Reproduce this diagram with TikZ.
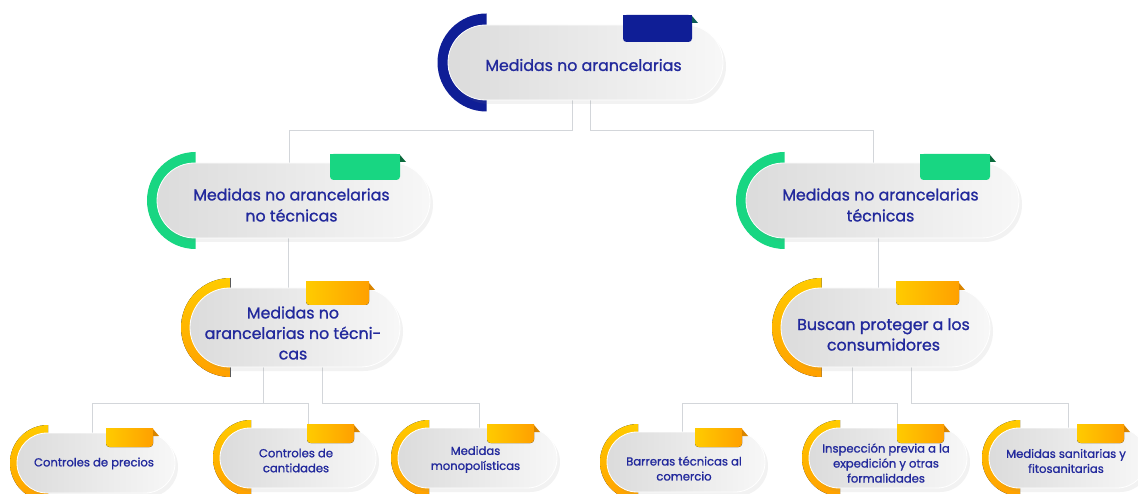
\documentclass[tikz,border=0pt]{standalone}
\usepackage{fontspec}
\setmainfont{Poppins}[FakeBold=1.1]
\usetikzlibrary{shapes.misc,shadows,backgrounds,calc}
\definecolor{txt}{HTML}{22299C}
\definecolor{bluec}{HTML}{0F1E96}
\definecolor{bluefold}{HTML}{0C5B57}
\definecolor{greenc}{HTML}{18D682}
\definecolor{greenfold}{HTML}{0B6B3D}
\definecolor{yel}{HTML}{FFCB00}
\definecolor{ora}{HTML}{FFA000}
\definecolor{orafold}{HTML}{D98500}
\definecolor{lnc}{HTML}{D3D6DA}
\tikzset{
  pill/.style={rounded rectangle, inner sep=0pt, draw=white, line width=0.8pt,
    left color=black!14, right color=black!3,
    drop shadow={opacity=0.10, shadow xshift=3pt, shadow yshift=-4pt}},
  lbl/.style={align=center, text=txt, inner sep=0pt},
  conn/.style={draw=lnc, line width=1pt},
  bluearc/.style={fill=bluec},
  bluetab/.style={fill=bluec},
  bluefoldst/.style={fill=bluefold},
  greenarc/.style={fill=greenc},
  greentab/.style={fill=greenc},
  greenfoldst/.style={fill=greenfold},
  yelarc/.style={top color=yel, bottom color=ora},
  yeltab/.style={left color=yel, right color=ora},
  yelfoldst/.style={fill=orafold},
}
% #1 name, #2 cx, #3 cy, #4 w, #5 scheme, #6 tab x1, #7 text, #8 text dy
\newcommand\mkpill[8]{%
  \pgfmathsetmacro\lx{#2-#4/2+\ph/2+1}%
  \pgfmathsetmacro\tx{#6+\tw}%
  \pgfmathsetmacro\ty{#3-\ph/2-\ttop}%
  \pgfmathsetmacro\tyb{\ty+\th}%
  \fill[#5arc] (\lx,#3) ++(0,-\pR) arc[start angle=-90,end angle=-270,radius=\pR] -- cycle;
  \node[pill, minimum width=#4pt, minimum height=\ph pt] (#1) at (#2,#3) {};
  \fill[#5tab, rounded corners=3.5pt] (#6,\ty) rectangle (\tx,\tyb);
  \fill[#5tab] (#6,\ty) rectangle (\tx,\ty+5);
  \fill[#5foldst] (\tx,\ty+1) -- (\tx+6,\ty+8) -- (\tx,\ty+8) -- cycle;
  \node[lbl, font=\fs] (#1t) at (#2-2,#3+#8) {#7};
}
\begin{document}
\begin{tikzpicture}[x=1pt,y=-1pt]
\useasboundingbox (0,0) rectangle (1138,494);

% level 1
\def\ph{75}\def\pR{49}\def\tw{69}\def\th{27}\def\ttop{10}
\def\fs{\fontsize{15.8}{21}\selectfont}
\mkpill{top}{585.5}{62.5}{275}{blue}{623}{Medidas no arancelarias}{2.5}

% level 2
\def\ph{75}\def\pR{48.5}\def\tw{70}\def\th{26}\def\ttop{9}
\mkpill{na}{293.5}{200.5}{273}{green}{330}{Medidas no arancelarias\\no técnicas}{4.5}
\mkpill{nb}{882.5}{200.5}{273}{green}{920}{Medidas no arancelarias\\técnicas}{4.5}

% level 3
\def\ph{79}\def\pR{49.5}\def\tw{63}\def\th{23}\def\ttop{6}
\def\fs{\fontsize{15.8}{20.5}\selectfont}
\mkpill{ma}{295}{327.5}{210}{yel}{306}{Medidas no\\arancelarias no técni-\\cas}{5.5}
\mkpill{mb}{885.5}{327.5}{209}{yel}{896}{Buscan proteger a los\\consumidores}{7}

% level 4
\def\ph{60}\def\pR{38}\def\tw{47}\def\th{19}\def\ttop{5}
\def\fs{\fontsize{11.6}{15}\selectfont}
\mkpill{b1}{96}{463}{158}{yel}{106}{Controles de precios}{0.5}
\def\ttop{4}
\mkpill{b2}{298}{458}{156}{yel}{307}{Controles de\\cantidades}{2.5}
\mkpill{b3}{477.5}{458}{159}{yel}{487}{Medidas\\monopolísticas}{1.5}
\mkpill{b4}{686}{462}{158}{yel}{695}{Barreras técnicas al\\comercio}{6.5}
\mkpill{b5}{888}{458}{158}{yel}{897}{Inspección previa a la\\expedición y otras\\formalidades}{5}
\mkpill{b6}{1068}{458}{158}{yel}{1077}{Medidas sanitarias y\\fitosanitarias}{3}

\begin{scope}[on background layer]
\fill[white] (0,0) rectangle (1138,494);
\draw[conn] ([xshift=-13.5pt]top.south) -- ++(0,30) coordinate (j0) -| ([xshift=-4.5pt]na.north);
\draw[conn] ([xshift=4.5pt]top.south) -- ([xshift=4.5pt]top.south |- j0) -| ([xshift=-9.5pt]nb.north);
\draw[conn] ([xshift=-5.5pt]na.south) -- ([xshift=-5.5pt]na.south |- ma.north);
\draw[conn] ([xshift=-4.5pt]nb.south) -- ([xshift=-4.5pt]nb.south |- mb.north);
% left bottom group
\draw[conn] ([xshift=-32pt]ma.south) -- ++(0,36) coordinate (ja);
\draw[conn] ([xshift=-4pt]b1.north) -- ([xshift=-4pt]b1.north |- ja) -- ([xshift=10pt]b2.north |- ja) -- ([xshift=10pt]b2.north);
\draw[conn] ([xshift=27pt]ma.south) -- ([xshift=27pt]ma.south |- ja) -| ([xshift=1.5pt]b3.north);
% right bottom group
\draw[conn] ([xshift=-33.5pt]mb.south) -- ++(0,36) coordinate (jb);
\draw[conn] ([xshift=-4pt]b4.north) -- ([xshift=-4pt]b4.north |- jb) -- ([xshift=9pt]b5.north |- jb) -- ([xshift=9pt]b5.north);
\draw[conn] ([xshift=25.5pt]mb.south) -- ([xshift=25.5pt]mb.south |- jb) -| (b6.north);
\end{scope}
\end{tikzpicture}
\end{document}
